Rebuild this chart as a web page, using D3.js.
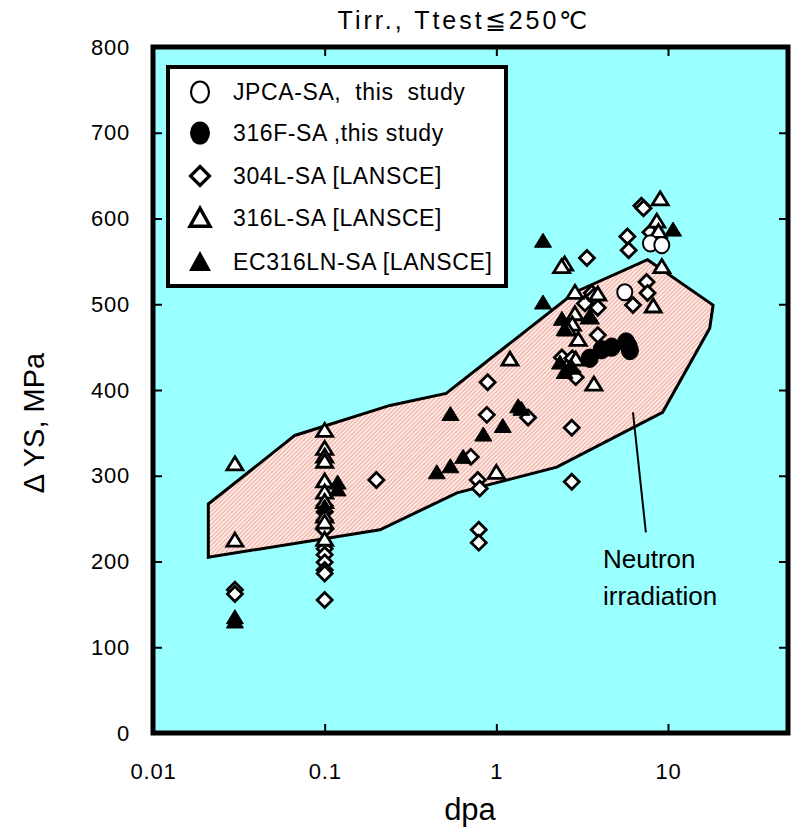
<!DOCTYPE html>
<html>
<head>
<meta charset="utf-8">
<script src="https://cdn.jsdelivr.net/npm/d3@7"></script>
<style>
  body { margin: 0; background: #fff; }
  text { font-family: "Liberation Sans", Arial, sans-serif; fill: #000; }
</style>
</head>
<body>
<svg id="chart" width="792" height="830"></svg>
<script>
// ---- data: [dpa, ΔYS (MPa)] ----
const jpcaSA = [[5.6, 514], [7.9, 571], [9.2, 569]];
const f316SA = [[3.5, 437], [4.1, 447], [4.7, 450], [5.7, 456], [6.0, 446], [5.9, 451]];
const l304SA = [
  [0.03, 167], [0.03, 162],
  [0.1, 265], [0.1, 258], [0.1, 248], [0.1, 237], [0.1, 215], [0.1, 208], [0.1, 199], [0.1, 190], [0.1, 186], [0.1, 155],
  [0.2, 295],
  [0.79, 237], [0.79, 222], [0.78, 295], [0.80, 285], [0.71, 322], [0.88, 371], [0.89, 409], [1.53, 368],
  [2.75, 356], [2.75, 293], [3.37, 554], [5.8, 579], [5.9, 563], [7.0, 615], [7.2, 612], [7.9, 584],
  [7.5, 526], [7.6, 513], [6.25, 499], [3.6, 513], [3.7, 509], [3.28, 501], [3.9, 496], [3.9, 464],
  [2.41, 438], [2.77, 437], [2.77, 421], [2.9, 415]
];
const l316SA = [
  [0.03, 313], [0.03, 224],
  [0.1, 352], [0.1, 331], [0.1, 322], [0.1, 316], [0.1, 293], [0.1, 280], [0.1, 269], [0.1, 252], [0.1, 245], [0.1, 225],
  [1.0, 303], [1.2, 435],
  [9.0, 622], [8.6, 596], [8.8, 584], [9.2, 543], [2.5, 546], [2.4, 543], [2.87, 513], [3.9, 511], [8.2, 497],
  [2.87, 488], [3.5, 484], [2.77, 476], [2.6, 470], [3.0, 458], [4.0, 447], [2.9, 435], [3.7, 406]
];
const ec316LN = [
  [0.03, 134], [0.03, 129],
  [0.1, 263], [0.119, 291], [0.119, 283],
  [0.45, 303], [0.54, 310], [0.64, 321], [0.54, 371], [0.84, 347], [1.09, 357], [1.34, 380], [1.40, 377],
  [1.87, 573], [1.87, 501], [10.7, 586], [2.41, 482], [3.5, 485], [2.5, 470], [2.35, 431], [2.5, 420], [2.77, 425]
];
// neutron irradiation band (outline vertices)
const neutronBand = [
  [0.021, 267], [0.067, 347], [0.24, 382], [0.51, 396], [2.87, 514], [7.6, 552], [18.3, 499], [17.5, 472],
  [9.3, 374], [2.25, 310], [0.59, 280], [0.21, 237], [0.021, 205]
];
const xTickValues = [0.01, 0.1, 1, 10];
const xTickLabels = ["0.01", "0.1", "1", "10"];
const yTickValues = [0, 100, 200, 300, 400, 500, 600, 700, 800];
const legendLabels = ["JPCA-SA,  this  study", "316F-SA ,this study", "304L-SA [LANSCE]", "316L-SA [LANSCE]", "EC316LN-SA [LANSCE]"];

// ---- layout ----
const L = 153, R = 788, T = 47, B = 733;
const svg = d3.select("#chart");
const x = d3.scaleLog().domain([0.01, 50]).range([L, R]);
const y = d3.scaleLinear().domain([0, 800]).range([B, T]);

// hatch fill for the band
const defs = svg.append("defs");
const pat = defs.append("pattern").attr("id", "hatch")
  .attr("patternUnits", "userSpaceOnUse").attr("width", 3).attr("height", 3)
  .attr("patternTransform", "rotate(45)");
pat.append("rect").attr("width", 3).attr("height", 3).attr("fill", "#fff");
pat.append("line").attr("x1", 1).attr("x2", 1).attr("y1", 0).attr("y2", 3)
  .attr("stroke", "#f08a78").attr("stroke-width", 1.1);

defs.append("clipPath").attr("id", "plotClip").append("rect")
  .attr("x", L).attr("y", T).attr("width", R - L).attr("height", B - T);

// plot background
svg.append("rect").attr("x", L).attr("y", T).attr("width", R - L).attr("height", B - T)
  .attr("fill", "#99ffff");

const plot = svg.append("g").attr("clip-path", "url(#plotClip)");

// band
plot.append("path")
  .attr("d", d3.line().x(d => x(d[0])).y(d => y(d[1]))(neutronBand) + "Z")
  .attr("fill", "url(#hatch)").attr("stroke", "#000").attr("stroke-width", 3)
  .attr("stroke-linejoin", "miter");

// annotation pointer and text
plot.append("line")
  .attr("x1", x(6.25)).attr("y1", y(374)).attr("x2", x(7.43)).attr("y2", y(234))
  .attr("stroke", "#000").attr("stroke-width", 2);
svg.append("text").attr("x", x(4.18)).attr("y", y(192)).attr("font-size", 26).text("Neutron");
svg.append("text").attr("x", x(4.18)).attr("y", y(149)).attr("font-size", 26).text("irradiation");

// marker shapes
function triPath(w, h) {
  return `M0,${-h * 0.6}L${w / 2},${h * 0.4}L${-w / 2},${h * 0.4}Z`;
}
function diaPath(w, h) {
  return `M0,${-h / 2}L${w / 2},0L0,${h / 2}L${-w / 2},0Z`;
}
function drawPaths(data, d, fill, sw) {
  plot.append("g").selectAll("path").data(data).join("path")
    .attr("transform", p => `translate(${x(p[0])},${y(p[1])})`)
    .attr("d", d).attr("fill", fill).attr("stroke", "#000").attr("stroke-width", sw)
    .attr("stroke-linejoin", "miter");
}
function drawCircles(data, r, fill, sw) {
  plot.append("g").selectAll("ellipse").data(data).join("ellipse")
    .attr("cx", p => x(p[0])).attr("cy", p => y(p[1])).attr("rx", r).attr("ry", r * 1.08)
    .attr("fill", fill).attr("stroke", "#000").attr("stroke-width", sw);
}

drawPaths(l304SA, diaPath(15, 15), "#fff", 2.8);
drawPaths(l316SA, triPath(16, 13), "#fff", 2.8);
drawPaths(ec316LN, triPath(17, 14), "#000", 1);
drawCircles(f316SA, 8.5, "#000", 1);
drawCircles(jpcaSA, 7.5, "#fff", 2);

// axes with inward ticks
function styleAxis(g) {
  g.select(".domain").remove();
  g.selectAll(".tick line").attr("stroke", "#000").attr("stroke-width", 2);
  g.selectAll(".tick text").attr("fill", "#000")
    .style("font-family", "Liberation Sans, Arial, sans-serif")
    .style("font-size", "22px").style("letter-spacing", "0.8px");
}
svg.append("g").attr("transform", `translate(${L},0)`)
  .call(d3.axisLeft(y).tickValues(yTickValues).tickSize(-9).tickPadding(23).tickFormat(d3.format("d")))
  .call(styleAxis);
svg.append("g").attr("transform", `translate(${R},0)`)
  .call(d3.axisRight(y).tickValues(yTickValues.slice(1, -1)).tickSize(-9).tickFormat(""))
  .call(styleAxis);
svg.append("g").attr("transform", `translate(0,${B})`)
  .call(d3.axisBottom(x).tickValues(xTickValues).tickSize(-9).tickPadding(30)
    .tickFormat((d, i) => xTickLabels[i]))
  .call(styleAxis);
svg.append("g").attr("transform", `translate(0,${T})`)
  .call(d3.axisTop(x).tickValues(xTickValues.slice(1)).tickSize(-9).tickFormat(""))
  .call(styleAxis);

// frame
svg.append("rect").attr("x", L).attr("y", T).attr("width", R - L).attr("height", B - T)
  .attr("fill", "none").attr("stroke", "#000").attr("stroke-width", 5);

// titles
svg.append("text").attr("x", 464).attr("y", 29).attr("text-anchor", "middle")
  .attr("font-size", 25).attr("letter-spacing", 3).text("Tirr., Ttest≦250℃");
svg.append("text").attr("x", 470).attr("y", 820).attr("text-anchor", "middle")
  .attr("font-size", 31).text("dpa");
svg.append("text").attr("transform", "translate(44,423) rotate(-90)").attr("text-anchor", "middle")
  .attr("font-size", 29).text("Δ YS, MPa");

// legend
const lg = svg.append("g");
lg.append("rect").attr("x", 168).attr("y", 67).attr("width", 338).attr("height", 219)
  .attr("fill", "#fff").attr("stroke", "#000").attr("stroke-width", 4);
const rowY = [92, 133, 176, 218, 262];
const mx = 200;
lg.append("ellipse").attr("cx", mx).attr("cy", rowY[0]).attr("rx", 9).attr("ry", 10.5)
  .attr("fill", "#fff").attr("stroke", "#000").attr("stroke-width", 2.2);
lg.append("ellipse").attr("cx", mx).attr("cy", rowY[1]).attr("rx", 10).attr("ry", 11.5)
  .attr("fill", "#000");
lg.append("path").attr("transform", `translate(${mx},${rowY[2]})`).attr("d", diaPath(19, 19))
  .attr("fill", "#fff").attr("stroke", "#000").attr("stroke-width", 3.2);
lg.append("path").attr("transform", `translate(${mx},${rowY[3] + 1})`).attr("d", triPath(20, 18))
  .attr("fill", "#fff").attr("stroke", "#000").attr("stroke-width", 3.4);
lg.append("path").attr("transform", `translate(${mx},${rowY[4] + 1})`).attr("d", triPath(22, 20))
  .attr("fill", "#000");
lg.selectAll("text.lab").data(legendLabels).join("text").attr("class", "lab")
  .attr("x", 233).attr("y", (d, i) => rowY[i] + 8).attr("font-size", 23)
  .attr("letter-spacing", 0.6)
  .style("white-space", "pre").text(d => d);
</script>
</body>
</html>
